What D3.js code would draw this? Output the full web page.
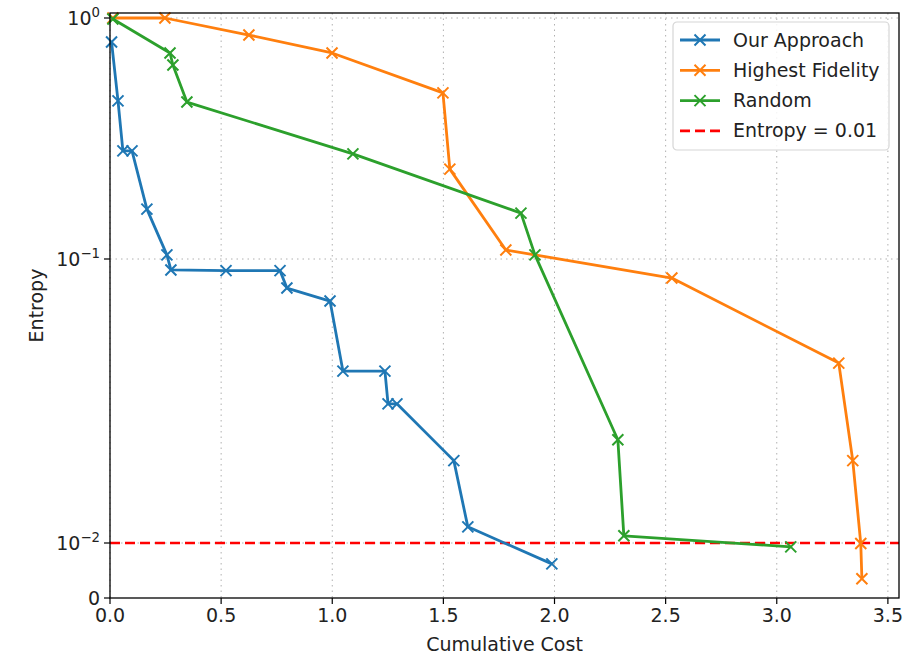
<!DOCTYPE html>
<html>
<head>
<meta charset="utf-8">
<script src="https://cdn.jsdelivr.net/npm/d3@7"></script>
<style>
  body { margin: 0; background: #fff; }
  svg text { font-family: "DejaVu Sans", sans-serif; fill: #222; }
</style>
</head>
<body>
<svg id="chart" width="914" height="656"></svg>
<script>
'use strict';

// values
const ourCost = [0.007, 0.036, 0.058, 0.099, 0.166, 0.256, 0.274, 0.522, 0.765, 0.796, 0.990, 1.048, 1.237, 1.251, 1.291, 1.547, 1.610, 1.988];
const ourEntropy = [0.795, 0.453, 0.281, 0.281, 0.161, 0.104, 0.0915, 0.091, 0.091, 0.079, 0.0711, 0.0403, 0.0403, 0.0309, 0.0309, 0.0195, 0.0114, 0.0062];

const fidCost = [0.013, 0.247, 0.625, 0.999, 1.498, 1.529, 1.781, 2.528, 3.279, 3.342, 3.378, 3.383];
const fidEntropy = [1.0, 1.0, 0.85, 0.716, 0.489, 0.236, 0.109, 0.0857, 0.043, 0.0195, 0.0099, 0.0035];

const rndCost = [0.013, 0.270, 0.283, 0.346, 1.093, 1.849, 1.912, 2.285, 2.312, 3.063];
const rndEntropy = [0.99, 0.716, 0.638, 0.448, 0.273, 0.155, 0.104, 0.0231, 0.0106, 0.0093];

const seriesNames = ['Our Approach', 'Highest Fidelity', 'Random'];
const seriesColors = ['#1f77b4', '#ff7f0e', '#2ca02c'];
const threshold = 0.01;
const thresholdLabel = 'Entropy = 0.01';
const xTicks = [0, 0.5, 1, 1.5, 2, 2.5, 3, 3.5];
const yTicks = [0, 0.01, 0.1, 1];

const svg = d3.select('#chart');
const plot = { left: 110, right: 899, top: 13, bottom: 598 };
const fs = 19;

// linear below 0.01, log above
function tf(v) {
  return v <= 0.01 ? -3 + v / 0.01 : Math.log10(v);
}

const x = d3.scaleLinear().domain([0, 3.55]).range([plot.left, plot.right]);
const yt = d3.scaleLinear().domain([-3, -2, -1, 0, 0.0207]).range([plot.bottom, 543, 259, 18, plot.top]);
const y = v => yt(tf(v));

// grid
const grid = svg.append('g');
grid.selectAll('line.vx').data(xTicks).join('line')
  .attr('x1', d => x(d)).attr('x2', d => x(d))
  .attr('y1', plot.top).attr('y2', plot.bottom)
  .attr('stroke', '#b0b0b0').attr('stroke-width', 1).attr('stroke-dasharray', '1.5,4');
grid.selectAll('line.hy').data(yTicks.slice(1)).join('line')
  .attr('x1', plot.left).attr('x2', plot.right)
  .attr('y1', d => y(d)).attr('y2', d => y(d))
  .attr('stroke', '#b0b0b0').attr('stroke-width', 1).attr('stroke-dasharray', '1.5,4');

// threshold
svg.append('line')
  .attr('x1', plot.left).attr('x2', plot.right)
  .attr('y1', y(threshold)).attr('y2', y(threshold))
  .attr('stroke', 'red').attr('stroke-width', 2.6).attr('stroke-dasharray', '10,5');

// series
const allSeries = [
  { cost: ourCost, entropy: ourEntropy },
  { cost: fidCost, entropy: fidEntropy },
  { cost: rndCost, entropy: rndEntropy }
];
const line = d3.line().x(d => x(d[0])).y(d => y(d[1]));
const ms = 5.5;

allSeries.forEach((s, i) => {
  const pts = s.cost.map((c, j) => [c, s.entropy[j]]);
  const g = svg.append('g');
  g.append('path').datum(pts)
    .attr('d', line).attr('fill', 'none')
    .attr('stroke', seriesColors[i]).attr('stroke-width', 2.8)
    .attr('stroke-linejoin', 'round');
  g.selectAll('path.mk').data(pts).join('path')
    .attr('class', 'mk')
    .attr('d', d => {
      const px = x(d[0]), py = y(d[1]);
      return `M${px - ms},${py - ms}L${px + ms},${py + ms}M${px - ms},${py + ms}L${px + ms},${py - ms}`;
    })
    .attr('stroke', seriesColors[i]).attr('stroke-width', 2);
});

// frame
svg.append('rect')
  .attr('x', plot.left).attr('y', plot.top)
  .attr('width', plot.right - plot.left).attr('height', plot.bottom - plot.top)
  .attr('fill', 'none').attr('stroke', '#000').attr('stroke-width', 1.3);

// x axis
const xa = svg.append('g');
xa.selectAll('line').data(xTicks).join('line')
  .attr('x1', d => x(d)).attr('x2', d => x(d))
  .attr('y1', plot.bottom).attr('y2', plot.bottom + 6)
  .attr('stroke', '#000').attr('stroke-width', 1.2);
xa.selectAll('text').data(xTicks).join('text')
  .attr('x', d => x(d)).attr('y', plot.bottom + 24)
  .attr('text-anchor', 'middle').attr('font-size', fs)
  .text(d => d3.format('.1f')(d));

// y axis
const ya = svg.append('g');
ya.selectAll('line').data(yTicks).join('line')
  .attr('x1', plot.left - 6).attr('x2', plot.left)
  .attr('y1', d => y(d)).attr('y2', d => y(d))
  .attr('stroke', '#000').attr('stroke-width', 1.2);
ya.selectAll('text').data(yTicks).join('text')
  .attr('x', plot.left - 10).attr('y', d => y(d) + 7)
  .attr('text-anchor', 'end').attr('font-size', fs)
  .each(function(d) {
    const t = d3.select(this);
    if (d === 0) {
      t.text('0');
      return;
    }
    t.append('tspan').text('10');
    t.append('tspan').attr('dy', -8).attr('font-size', fs * 0.7)
      .text(String(Math.round(Math.log10(d))).replace('-', '\u2212'));
  });

// axis labels
svg.append('text')
  .attr('x', (plot.left + plot.right) / 2).attr('y', 651)
  .attr('text-anchor', 'middle').attr('font-size', fs)
  .text('Cumulative Cost');
svg.append('text')
  .attr('transform', `translate(43,${(plot.top + plot.bottom) / 2}) rotate(-90)`)
  .attr('text-anchor', 'middle').attr('font-size', fs)
  .text('Entropy');

// legend
const lg = svg.append('g').attr('transform', 'translate(673,22)');
lg.append('rect')
  .attr('width', 216).attr('height', 128).attr('rx', 4)
  .attr('fill', 'rgba(255,255,255,0.85)').attr('stroke', '#d6d6d6').attr('stroke-width', 1.2);
const legendItems = seriesNames.map((n, i) => ({ name: n, color: seriesColors[i], dash: false }))
  .concat([{ name: thresholdLabel, color: 'red', dash: true }]);
legendItems.forEach((item, i) => {
  const cy = 18 + i * 30.3;
  lg.append('line')
    .attr('x1', 7).attr('x2', 47).attr('y1', cy).attr('y2', cy)
    .attr('stroke', item.color).attr('stroke-width', item.dash ? 2.6 : 2.8)
    .attr('stroke-dasharray', item.dash ? '10,5' : null);
  if (!item.dash) {
    lg.append('path')
      .attr('d', `M${27 - ms},${cy - ms}L${27 + ms},${cy + ms}M${27 - ms},${cy + ms}L${27 + ms},${cy - ms}`)
      .attr('stroke', item.color).attr('stroke-width', 2);
  }
  lg.append('text')
    .attr('x', 60).attr('y', cy + 6.5)
    .attr('font-size', fs)
    .text(item.name);
});
</script>
</body>
</html>
